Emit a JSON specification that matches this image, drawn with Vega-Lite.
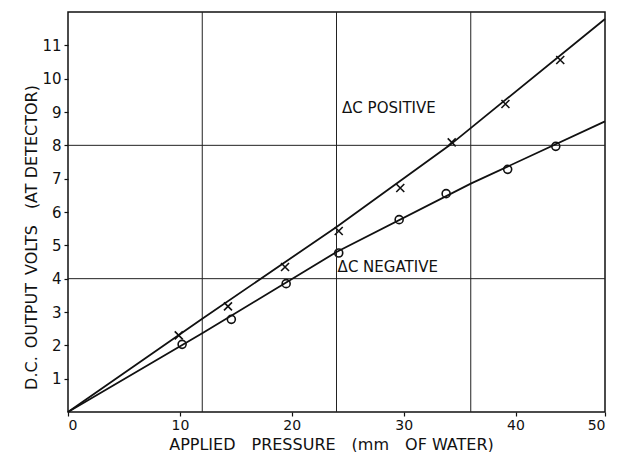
{
  "$schema": "https://vega.github.io/schema/vega-lite/v6.json",
  "width": 537,
  "height": 400,
  "autosize": {"type": "none"},
  "padding": {"left": 68, "top": 12, "right": 16, "bottom": 40},
  "background": "white",
  "config": {
    "view": {"stroke": "#111", "strokeWidth": 1.5},
    "font": "DejaVu Sans",
    "axis": {"labelColor": "#111", "titleColor": "#111", "tickColor": "#111", "titleFontWeight": "normal", "labelOverlap": false}
  },
  "datasets": {
    "points": [
      {"pressure": 9.9, "volts": 2.3, "series": "ΔC positive"},
      {"pressure": 14.3, "volts": 3.17, "series": "ΔC positive"},
      {"pressure": 19.4, "volts": 4.35, "series": "ΔC positive"},
      {"pressure": 24.2, "volts": 5.43, "series": "ΔC positive"},
      {"pressure": 29.7, "volts": 6.72, "series": "ΔC positive"},
      {"pressure": 34.3, "volts": 8.09, "series": "ΔC positive"},
      {"pressure": 39.1, "volts": 9.24, "series": "ΔC positive"},
      {"pressure": 44.0, "volts": 10.56, "series": "ΔC positive"},
      {"pressure": 10.2, "volts": 2.03, "series": "ΔC negative"},
      {"pressure": 14.6, "volts": 2.78, "series": "ΔC negative"},
      {"pressure": 19.5, "volts": 3.85, "series": "ΔC negative"},
      {"pressure": 24.2, "volts": 4.77, "series": "ΔC negative"},
      {"pressure": 29.6, "volts": 5.77, "series": "ΔC negative"},
      {"pressure": 33.8, "volts": 6.55, "series": "ΔC negative"},
      {"pressure": 39.3, "volts": 7.28, "series": "ΔC negative"},
      {"pressure": 43.6, "volts": 7.97, "series": "ΔC negative"}
    ],
    "curves": [
      {"pressure": 0, "volts": 0, "series": "ΔC positive"},
      {"pressure": 12, "volts": 2.8, "series": "ΔC positive"},
      {"pressure": 24, "volts": 5.55, "series": "ΔC positive"},
      {"pressure": 34.1, "volts": 8.0, "series": "ΔC positive"},
      {"pressure": 48, "volts": 11.79, "series": "ΔC positive"},
      {"pressure": 0, "volts": 0, "series": "ΔC negative"},
      {"pressure": 12, "volts": 2.36, "series": "ΔC negative"},
      {"pressure": 24, "volts": 4.8, "series": "ΔC negative"},
      {"pressure": 36, "volts": 6.85, "series": "ΔC negative"},
      {"pressure": 48, "volts": 8.72, "series": "ΔC negative"}
    ],
    "gridx": [{"pressure": 12}, {"pressure": 24}, {"pressure": 36}],
    "gridy": [{"volts": 4}, {"volts": 8}],
    "notes": [
      {"pressure": 24.5, "volts": 9.13, "text": "ΔC POSITIVE"},
      {"pressure": 24.1, "volts": 4.36, "text": "ΔC NEGATIVE"}
    ]
  },
  "layer": [
    {
      "data": {"name": "points"},
      "mark": {"type": "point", "filled": false, "stroke": "#111", "strokeWidth": 1.6, "size": 64, "opacity": 1},
      "encoding": {
        "x": {
          "field": "pressure", "type": "quantitative",
          "scale": {"domain": [0, 48], "nice": false, "zero": false},
          "axis": {
            "values": [0, 10, 20, 30, 40, 48],
            "tickCount": 20,
            "format": "d",
            "labelExpr": "datum.value == 48 ? '50' : datum.label",
            "labelOverlap": false,
            "grid": false, "domain": false, "ticks": true, "tickSize": 4, "tickWidth": 1.2,
            "labelFontSize": 14, "labelPadding": 2,
            "title": "APPLIED\u2002\u2002PRESSURE\u2002\u2002(mm\u2002\u2002OF WATER)",
            "titleFontSize": 16, "titleY": 37, "titleX": 263, "titleAnchor": "middle", "titleBaseline": "alphabetic"
          }
        },
        "y": {
          "field": "volts", "type": "quantitative",
          "scale": {"domain": [0, 12], "nice": false, "zero": false},
          "axis": {
            "values": [1, 2, 3, 4, 5, 6, 7, 8, 9, 10, 11],
            "tickCount": 20,
            "format": "d",
            "labelOverlap": false,
            "grid": false, "domain": false, "ticks": true, "tickSize": 4, "tickWidth": 1.2,
            "labelFontSize": 15, "labelPadding": 3,
            "title": "D.C.\u2002OUTPUT\u2002VOLTS\u2002\u2002(AT DETECTOR)",
            "titleFontSize": 16, "titleX": -37, "titleY": 225, "titleAngle": -90, "titleBaseline": "middle", "titleAlign": "center"
          }
        },
        "shape": {
          "field": "series", "type": "nominal",
          "scale": {"domain": ["ΔC positive", "ΔC negative"], "range": ["M-1,-1L1,1M-1,1L1,-1", "circle"]},
          "legend": null
        }
      }
    },
    {
      "data": {"name": "gridx"},
      "mark": {"type": "rule", "stroke": "#222", "strokeWidth": 1},
      "encoding": {
        "x": {"field": "pressure", "type": "quantitative", "scale": {"domain": [0, 48], "nice": false, "zero": false}}
      }
    },
    {
      "data": {"name": "gridy"},
      "mark": {"type": "rule", "stroke": "#222", "strokeWidth": 1},
      "encoding": {
        "y": {"field": "volts", "type": "quantitative", "scale": {"domain": [0, 12], "nice": false, "zero": false}}
      }
    },
    {
      "data": {"name": "curves"},
      "mark": {"type": "line", "stroke": "#111", "strokeWidth": 1.8},
      "encoding": {
        "x": {"field": "pressure", "type": "quantitative", "scale": {"domain": [0, 48], "nice": false, "zero": false}},
        "y": {"field": "volts", "type": "quantitative", "scale": {"domain": [0, 12], "nice": false, "zero": false}},
        "detail": {"field": "series", "type": "nominal"},
        "order": {"field": "pressure", "type": "quantitative"}
      }
    },
    {
      "data": {"name": "notes"},
      "mark": {"type": "text", "align": "left", "baseline": "middle", "fontSize": 15, "color": "#111", "font": "DejaVu Sans"},
      "encoding": {
        "x": {"field": "pressure", "type": "quantitative", "scale": {"domain": [0, 48], "nice": false, "zero": false}},
        "y": {"field": "volts", "type": "quantitative", "scale": {"domain": [0, 12], "nice": false, "zero": false}},
        "text": {"field": "text", "type": "nominal"}
      }
    }
  ]
}
